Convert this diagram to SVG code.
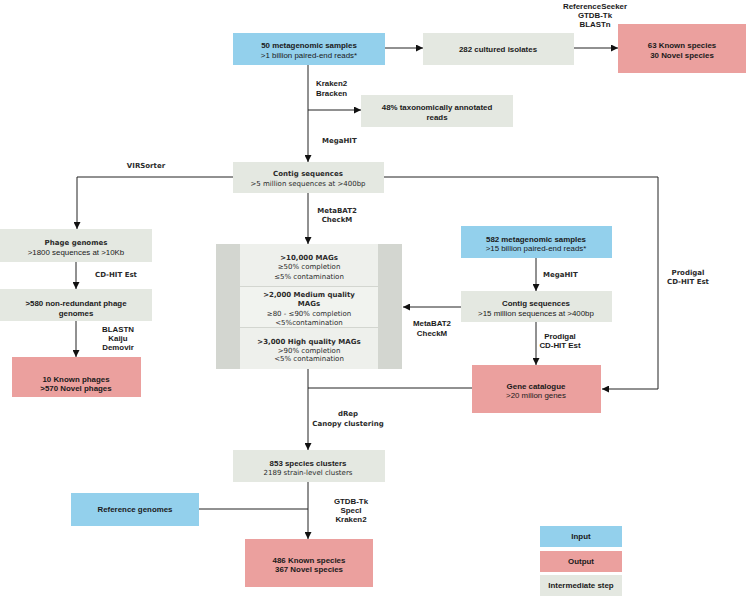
<svg xmlns="http://www.w3.org/2000/svg" width="747" height="597" viewBox="0 0 747 597">
<defs>
<marker id="ah" viewBox="0 0 10 10" refX="10" refY="5" markerWidth="7" markerHeight="7" markerUnits="userSpaceOnUse" orient="auto">
<path d="M0,0 L10,5 L0,10 z" fill="#111"/>
</marker>
<style>
.in{fill:#93D0EC}
.out{fill:#EBA09E}
.mid{fill:#E4E8E1}
.t{font-family:"Liberation Sans",Arial,sans-serif;font-size:7.9px;fill:#1a1a1a;text-anchor:middle}
.b{font-weight:bold}
.v{font-family:"DejaVu Sans",Verdana,sans-serif;font-size:7px;fill:#2a2a2a;text-anchor:middle}
.l{text-anchor:start}
.c{fill:none;stroke:#222;stroke-width:1}
</style>
</defs>
<rect width="747" height="597" fill="#fff"/>

<g id="connectors">
<path class="c" d="M385,48 H423" marker-end="url(#ah)"/>
<path class="c" d="M574,48 H618" marker-end="url(#ah)"/>
<path class="c" d="M308,65 V162" marker-end="url(#ah)"/>
<path class="c" d="M308,110 H361" marker-end="url(#ah)"/>
<path class="c" d="M233,177 H77 V229" marker-end="url(#ah)"/>
<path class="c" d="M384,177 H658 V389 H602" marker-end="url(#ah)"/>
<path class="c" d="M308,193 V244" marker-end="url(#ah)"/>
<path class="c" d="M76,262 V289" marker-end="url(#ah)"/>
<path class="c" d="M76,321 V357" marker-end="url(#ah)"/>
<path class="c" d="M536,258 V291" marker-end="url(#ah)"/>
<path class="c" d="M461,307 H403" marker-end="url(#ah)"/>
<path class="c" d="M536,322 V365" marker-end="url(#ah)"/>
<path class="c" d="M308,369 V450" marker-end="url(#ah)"/>
<path class="c" d="M472,388 H308"/>
<path class="c" d="M308,482 V539" marker-end="url(#ah)"/>
<path class="c" d="M199,509 H308"/>
</g>

<g id="labels">
<text class="t b" x="595" y="9">ReferenceSeeker</text>
<text class="t b" x="595" y="18">GTDB-Tk</text>
<text class="t b" x="595" y="27">BLASTn</text>
<text class="t b l" x="316" y="86">Kraken2</text>
<text class="t b l" x="316" y="96">Bracken</text>
<text class="v b l" x="322" y="143">MegaHIT</text>
<text class="v b" x="146" y="168">VIRSorter</text>
<text class="v b" x="337" y="213">MetaBAT2</text>
<text class="v b" x="337" y="222">CheckM</text>
<text class="v b l" x="95" y="277">CD-HIT Est</text>
<text class="t b" x="118" y="332">BLASTN</text>
<text class="t b" x="118" y="341">Kaiju</text>
<text class="t b" x="118" y="350">Demovir</text>
<text class="v b l" x="543" y="277">MegaHIT</text>
<text class="t b" x="432" y="326">MetaBAT2</text>
<text class="t b" x="432" y="336">CheckM</text>
<text class="t b" x="560" y="339">Prodigal</text>
<text class="t b" x="560" y="348">CD-HIT Est</text>
<text class="v b" x="688" y="275">Prodigal</text>
<text class="v b" x="688" y="284">CD-HIT Est</text>
<text class="v b" x="348" y="416">dRep</text>
<text class="v b" x="348" y="426">Canopy clustering</text>
<text class="t b" x="351" y="504">GTDB-Tk</text>
<text class="t b" x="351" y="513">SpecI</text>
<text class="t b" x="351" y="522">Kraken2</text>
</g>

<g id="n-samples50">
<rect class="in" x="233" y="33" width="152" height="32"/>
<text class="t b" x="309" y="48">50 metagenomic samples</text>
<text class="t" x="309" y="58">&gt;1 billion paired-end reads*</text>
</g>
<g id="n-isolates">
<rect class="mid" x="423" y="33" width="151" height="32"/>
<text class="t b" x="498" y="52">282 cultured isolates</text>
</g>
<g id="n-species-isolates">
<rect class="out" x="618" y="24" width="128" height="49"/>
<text class="t b" x="682" y="48">63 Known species</text>
<text class="t b" x="682" y="58">30 Novel species</text>
</g>
<g id="n-annotated">
<rect class="mid" x="361" y="95" width="152" height="32"/>
<text class="t b" x="437" y="110">48% taxonomically annotated</text>
<text class="t b" x="437" y="120">reads</text>
</g>
<g id="n-contig1">
<rect class="mid" x="233" y="162" width="151" height="31"/>
<text class="v b" x="308" y="176">Contig sequences</text>
<text class="v" x="308" y="186">&gt;5 million sequences at &gt;400bp</text>
</g>
<g id="n-phage">
<rect class="mid" x="0" y="229" width="152" height="33"/>
<text class="v b" x="76" y="245">Phage genomes</text>
<text class="t" x="76" y="255">&gt;1800 sequences at &gt;10Kb</text>
</g>
<g id="n-nonred">
<rect class="mid" x="0" y="289" width="152" height="32"/>
<text class="t b" x="76" y="306">&gt;580 non-redundant phage</text>
<text class="t b" x="76" y="316">genomes</text>
</g>
<g id="n-phages-out">
<rect class="out" x="12" y="357" width="129" height="40"/>
<text class="t b" x="76" y="382">10 Known phages</text>
<text class="t b" x="76" y="391">&gt;570 Novel phages</text>
</g>
<g id="n-mags">
<rect x="216" y="244" width="186" height="125" fill="#D3D6D0"/>
<rect x="240" y="244" width="138" height="42" fill="#EEF0EC"/>
<rect x="240" y="287" width="138" height="40" fill="#F1F3EF"/>
<rect x="240" y="328" width="138" height="41" fill="#EEF0EC"/>
<text class="v b" x="309" y="260">&gt;10,000 MAGs</text>
<text class="v" x="309" y="269">≥50% completion</text>
<text class="v" x="309" y="279">≤5% contamination</text>
<text class="v b" x="309" y="297">&gt;2,000 Medium quality</text>
<text class="v b" x="309" y="306">MAGs</text>
<text class="v" x="309" y="316">≥80 - ≤90% completion</text>
<text class="v" x="309" y="325">&lt;5%contamination</text>
<text class="v b" x="309" y="344">&gt;3,000 High quality MAGs</text>
<text class="v" x="309" y="353">&gt;90% completion</text>
<text class="v" x="309" y="361">&lt;5% contamination</text>
</g>
<g id="n-samples582">
<rect class="in" x="461" y="226" width="151" height="32"/>
<text class="t b" x="536" y="242">582 metagenomic samples</text>
<text class="t" x="536" y="251">&gt;15 billion paired-end reads*</text>
</g>
<g id="n-contig2">
<rect class="mid" x="461" y="291" width="151" height="31"/>
<text class="t b" x="536" y="306">Contig sequences</text>
<text class="t" x="536" y="316">&gt;15 million sequences at &gt;400bp</text>
</g>
<g id="n-genecat">
<rect class="out" x="472" y="365" width="129" height="48"/>
<text class="t b" x="536" y="389">Gene catalogue</text>
<text class="t" x="536" y="398">&gt;20 milion genes</text>
</g>
<g id="n-clusters">
<rect class="mid" x="233" y="450" width="152" height="32"/>
<text class="t b" x="308" y="466">853 species clusters</text>
<text class="v" x="308" y="475">2189 strain-level clusters</text>
</g>
<g id="n-refgen">
<rect class="in" x="71" y="493" width="128" height="33"/>
<text class="t b" x="135" y="512">Reference genomes</text>
</g>
<g id="n-species-out">
<rect class="out" x="245" y="539" width="128" height="48"/>
<text class="t b" x="309" y="563">486 Known species</text>
<text class="t b" x="309" y="572">367 Novel species</text>
</g>
<g id="legend">
<rect class="in" x="540" y="526" width="82" height="21"/>
<text class="t b" x="581" y="539">Input</text>
<rect class="out" x="540" y="551" width="82" height="21"/>
<text class="t b" x="581" y="564">Output</text>
<rect class="mid" x="540" y="575" width="82" height="21"/>
<text class="t b" x="581" y="588">Intermediate step</text>
</g>
</svg>
